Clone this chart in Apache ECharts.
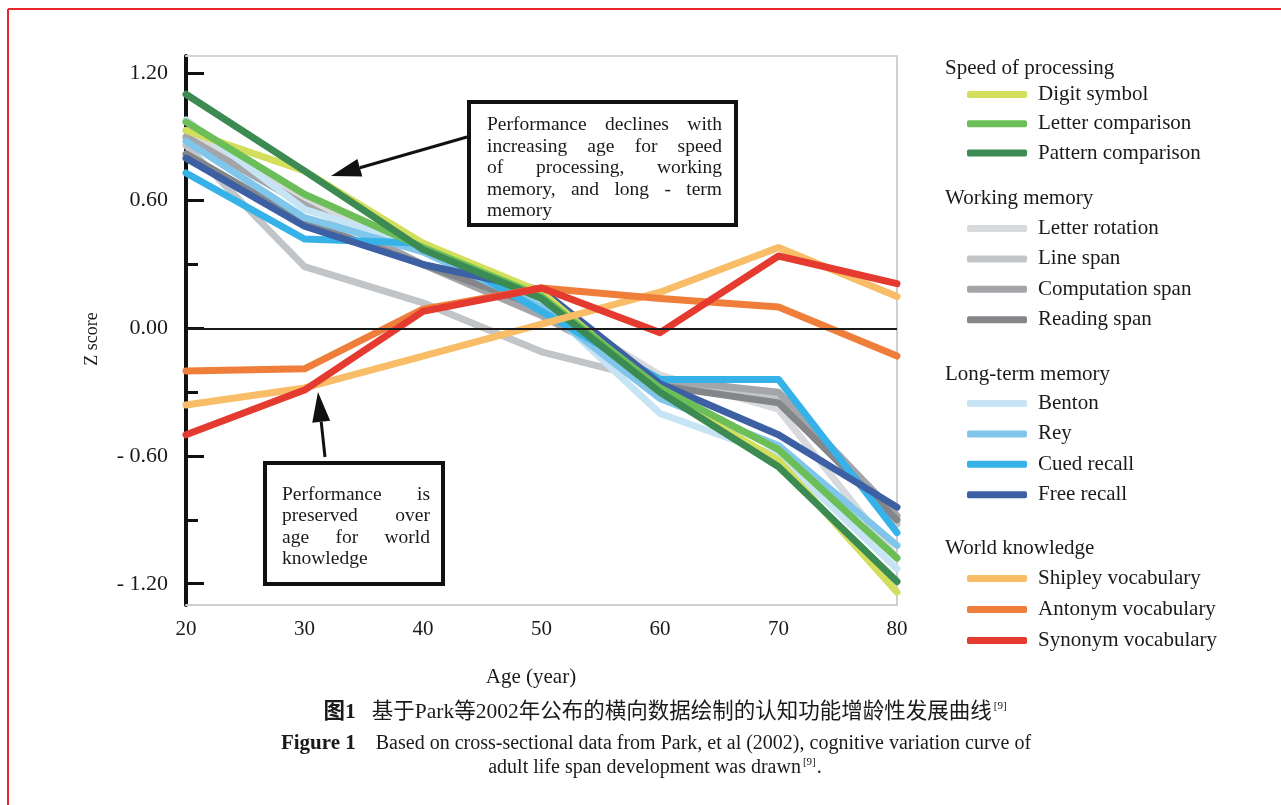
<!DOCTYPE html>
<html><head><meta charset="utf-8">
<script src="https://cdn.jsdelivr.net/npm/echarts@6/dist/echarts.min.js"></script>
<style>html,body{margin:0;padding:0;background:#fff}#c{width:1281px;height:805px}</style>
</head><body><div id="c"></div>
<script>
// ---------- data ----------
const ages = [20, 30, 40, 50, 60, 70, 80];
const yTickValues = [-1.2, -0.6, 0, 0.6, 1.2];
const yMinorTickValues = [-0.9, -0.3, 0.3, 0.9];

const digitSymbol       = [0.93, 0.74, 0.40, 0.17, -0.30, -0.62, -1.24];
const letterComparison  = [0.97, 0.63, 0.38, 0.15, -0.28, -0.57, -1.08];
const patternComparison = [1.10, 0.74, 0.37, 0.14, -0.30, -0.65, -1.19];
const letterRotation    = [0.93, 0.60, 0.36, 0.12, -0.22, -0.38, -1.08];
const lineSpan          = [0.86, 0.29, 0.12, -0.11, -0.25, -0.33, -0.92];
const computationSpan   = [0.90, 0.58, 0.30, 0.06, -0.24, -0.30, -0.88];
const readingSpan       = [0.82, 0.50, 0.30, 0.10, -0.27, -0.35, -0.90];
const benton            = [0.98, 0.56, 0.38, 0.12, -0.40, -0.60, -1.13];
const rey               = [0.88, 0.52, 0.36, 0.10, -0.33, -0.55, -1.02];
const cuedRecall        = [0.73, 0.42, 0.40, 0.08, -0.24, -0.24, -0.96];
const freeRecall        = [0.80, 0.48, 0.30, 0.18, -0.26, -0.50, -0.84];
const shipley           = [-0.36, -0.28, -0.13, 0.02, 0.17, 0.38, 0.15];
const antonym           = [-0.20, -0.19, 0.09, 0.19, 0.14, 0.10, -0.13];
const synonym           = [-0.50, -0.29, 0.08, 0.19, -0.02, 0.34, 0.21];

const groupTitles = ['Speed of processing', 'Working memory', 'Long-term memory', 'World knowledge'];
const groupMembers = [
  ['Digit symbol', 'Letter comparison', 'Pattern comparison'],
  ['Letter rotation', 'Line span', 'Computation span', 'Reading span'],
  ['Benton', 'Rey', 'Cued recall', 'Free recall'],
  ['Shipley vocabulary', 'Antonym vocabulary', 'Synonym vocabulary']
];

const box1Lines = ['Performance declines with', 'increasing age for speed', 'of processing, working', 'memory, and long - term', 'memory'];
const box2Lines = ['Performance is', 'preserved over', 'age for world', 'knowledge'];

// ---------- styles ----------
const SERIF = '"Liberation Serif", "Times New Roman", serif';
const seriesDefs = [
  { name: 'Letter rotation', data: letterRotation, color: '#d8d9dc' },
  { name: 'Line span', data: lineSpan, color: '#c2c5c8' },
  { name: 'Computation span', data: computationSpan, color: '#a3a5a8' },
  { name: 'Reading span', data: readingSpan, color: '#848689' },
  { name: 'Benton', data: benton, color: '#c6e4f4' },
  { name: 'Rey', data: rey, color: '#80c5ea' },
  { name: 'Cued recall', data: cuedRecall, color: '#36b2e8' },
  { name: 'Free recall', data: freeRecall, color: '#3d60a4' },
  { name: 'Digit symbol', data: digitSymbol, color: '#d3df5c' },
  { name: 'Letter comparison', data: letterComparison, color: '#6cbf58' },
  { name: 'Pattern comparison', data: patternComparison, color: '#3c8b53' },
  { name: 'Shipley vocabulary', data: shipley, color: '#f8bd66' },
  { name: 'Antonym vocabulary', data: antonym, color: '#ee7e3a' },
  { name: 'Synonym vocabulary', data: synonym, color: '#e53a2f' }
];

const chart = echarts.init(document.getElementById('c'), null, { renderer: 'canvas' });

const series = seriesDefs.map((d, k) => ({
  type: 'line',
  name: d.name,
  data: ages.map((a, i) => [a, d.data[i]]),
  symbol: 'none',
  smooth: false,
  animation: false,
  itemStyle: { color: d.color },
  lineStyle: { color: d.color, width: 7, cap: 'round', join: 'round' },
  z: 3,
  markLine: k === 0 ? {
    silent: true, symbol: 'none', animation: false,
    label: { show: false },
    lineStyle: { color: '#1a1a1a', width: 2, type: 'solid' },
    data: [{ yAxis: 0 }]
  } : undefined
}));

// measuring for justified box text
const mctx = document.createElement('canvas').getContext('2d');
function justify(lines, x0, x1, y0, lh, size) {
  const font = size + 'px "Liberation Serif"';
  mctx.font = font;
  const els = [];
  lines.forEach((ln, i) => {
    const words = ln.split(' ');
    const y = y0 + i * lh;
    const last = i === lines.length - 1;
    if (last || words.length === 1) {
      els.push({ type: 'text', x: x0, y: y, style: { text: ln, font: font, fill: '#1a1a1a', align: 'left', verticalAlign: 'middle' } });
    } else {
      const widths = words.map(w => mctx.measureText(w).width);
      const total = widths.reduce((a, b) => a + b, 0);
      const gap = (x1 - x0 - total) / (words.length - 1);
      let x = x0;
      words.forEach((w, j) => {
        els.push({ type: 'text', x: x, y: y, style: { text: w, font: font, fill: '#1a1a1a', align: 'left', verticalAlign: 'middle' } });
        x += widths[j] + gap;
      });
    }
  });
  return els;
}

function arrow(x1, y1, x2, y2) {
  const ang = Math.atan2(y2 - y1, x2 - x1);
  const L = 30, W = 9;
  const bx = x2 - L * Math.cos(ang), by = y2 - L * Math.sin(ang);
  const px = -Math.sin(ang) * W, py = Math.cos(ang) * W;
  return [
    { type: 'line', shape: { x1: x1, y1: y1, x2: bx, y2: by }, style: { stroke: '#111', lineWidth: 3 } },
    { type: 'polygon', shape: { points: [[x2, y2], [bx + px, by + py], [bx - px, by - py]] }, style: { fill: '#111' } }
  ];
}

const legendTops = [84, 218, 393, 568];
const legendGaps = [8.3, 9.4, 9.4, 10];
const headerYs = [68, 198, 374, 548];

const graphics = [
  { type: 'line', shape: { x1: 8, y1: 9, x2: 1281, y2: 9 }, style: { stroke: '#e8262b', lineWidth: 2 } },
  { type: 'line', shape: { x1: 8, y1: 9, x2: 8, y2: 805 }, style: { stroke: '#e8262b', lineWidth: 2 } },
  { type: 'rect', shape: { x: 469, y: 102, width: 267, height: 123 }, style: { fill: '#fff', stroke: '#111', lineWidth: 4 }, z: 10 },
  { type: 'rect', shape: { x: 265, y: 463, width: 178, height: 121 }, style: { fill: '#fff', stroke: '#111', lineWidth: 4 }, z: 10 },
  ...arrow(467, 137, 331, 176),
  ...arrow(325, 457, 318, 392),
  // axis titles
  { type: 'text', x: 92, y: 339, rotation: Math.PI / 2, style: { text: 'Z score', font: '18px ' + SERIF, fill: '#1a1a1a', align: 'center', verticalAlign: 'middle' } },
  { type: 'text', x: 531, y: 677, style: { text: 'Age (year)', font: '21px ' + SERIF, fill: '#1a1a1a', align: 'center', verticalAlign: 'middle' } },
  // captions
  {
    type: 'text', x: 665, y: 712, z: 10,
    style: {
      text: '{b|图1}   基于Park等2002年公布的横向数据绘制的认知功能增龄性发展曲线{s|[9]}',
      align: 'center', verticalAlign: 'middle', fill: '#1a1a1a',
      font: '21.5px "Liberation Serif", "Noto Sans CJK SC"',
      rich: {
        b: { fontWeight: 'bold', fontSize: 21.5, fontFamily: '"Liberation Serif", "Noto Sans CJK SC"' },
        s: { fontSize: 11, verticalAlign: 'top', fontFamily: SERIF, padding: [0, 0, 12, 2] }
      }
    }
  },
  {
    type: 'text', x: 656, y: 744, z: 10,
    style: {
      text: '{b|Figure 1}    Based on cross-sectional data from Park, et al (2002), cognitive variation curve of',
      align: 'center', verticalAlign: 'middle', fill: '#1a1a1a',
      font: '20px ' + SERIF,
      rich: { b: { fontWeight: 'bold', fontSize: 21, fontFamily: SERIF } }
    }
  },
  {
    type: 'text', x: 655, y: 768, z: 10,
    style: {
      text: 'adult life span development was drawn{s|[9]}.',
      align: 'center', verticalAlign: 'middle', fill: '#1a1a1a',
      font: '20px ' + SERIF,
      rich: { s: { fontSize: 11, verticalAlign: 'top', fontFamily: SERIF, padding: [0, 1, 12, 2] } }
    }
  }
];

groupTitles.forEach((t, i) => {
  graphics.push({ type: 'text', x: 945, y: headerYs[i], style: { text: t, font: '21px ' + SERIF, fill: '#1a1a1a', align: 'left', verticalAlign: 'middle' } });
});

justify(box1Lines, 487, 722, 125, 21.5, 19.5).forEach(e => { e.z = 11; graphics.push(e); });
justify(box2Lines, 282, 430, 495, 21.3, 19.5).forEach(e => { e.z = 11; graphics.push(e); });

const fmt = v => (v < 0 ? '- ' + Math.abs(v).toFixed(2) : v.toFixed(2));

const option = {
  backgroundColor: '#ffffff',
  animation: false,
  grid: { left: 186, right: 384, top: 56, bottom: 200, containLabel: false },
  xAxis: [
    {
      type: 'value', min: 20, max: 80, interval: 10,
      axisLine: { show: true, onZero: false, lineStyle: { color: '#cfcfcf', width: 2 } },
      axisTick: { show: false }, splitLine: { show: false },
      axisLabel: { color: '#1a1a1a', fontSize: 21, fontFamily: SERIF, margin: 14 }
    },
    {
      type: 'value', min: 20, max: 80, position: 'top',
      axisLine: { show: true, onZero: false, lineStyle: { color: '#d6d6d6', width: 2 } },
      axisTick: { show: false }, axisLabel: { show: false }, splitLine: { show: false }
    }
  ],
  yAxis: [
    {
      type: 'value', min: -1.3, max: 1.28, position: 'left',
      axisLine: { show: true, onZero: false, lineStyle: { color: '#111', width: 4 } },
      axisTick: { show: true, inside: true, length: 18, lineStyle: { color: '#111', width: 3 }, customValues: yTickValues },
      axisLabel: { customValues: yTickValues, formatter: fmt, color: '#1a1a1a', fontSize: 22, fontFamily: SERIF, margin: 18 },
      splitLine: { show: false }
    },
    {
      type: 'value', min: -1.3, max: 1.28, position: 'left',
      axisLine: { show: false, onZero: false },
      axisTick: { show: true, inside: true, length: 12, lineStyle: { color: '#111', width: 3 }, customValues: yMinorTickValues },
      axisLabel: { show: false }, splitLine: { show: false }
    },
    {
      type: 'value', min: -1.3, max: 1.28, position: 'right',
      axisLine: { show: true, onZero: false, lineStyle: { color: '#cfcfcf', width: 2 } },
      axisTick: { show: false }, axisLabel: { show: false }, splitLine: { show: false }
    }
  ],
  legend: groupMembers.map((names, i) => ({
    orient: 'vertical', left: 967, top: legendTops[i], padding: 0,
    itemWidth: 60, itemHeight: 7, itemGap: legendGaps[i], icon: 'roundRect',
    selectedMode: false, data: names,
    textStyle: { fontFamily: SERIF, fontSize: 21, color: '#1a1a1a', lineHeight: 20, padding: [0, 0, 0, 6] }
  })),
  series: series,
  graphic: graphics
};

chart.setOption(option);
</script>
</body></html>
